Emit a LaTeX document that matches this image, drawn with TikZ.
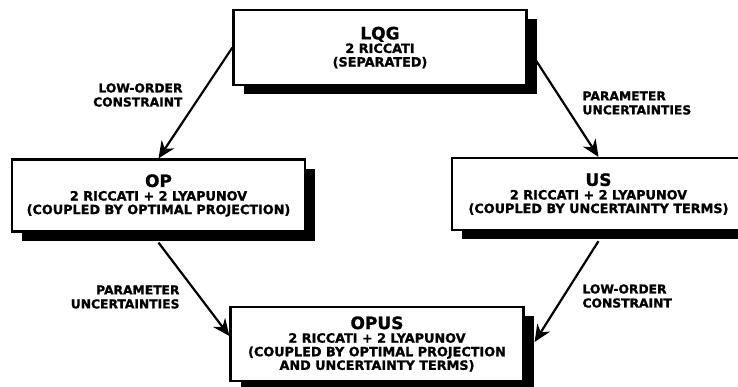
\documentclass[tikz,border=0pt]{standalone}
\usepackage{fontspec}
\newfontfamily\diagfont{DejaVu Sans}[BoldFeatures={FakeBold=1.2}]
\usetikzlibrary{arrows.meta, shadows}

\begin{document}
\begin{tikzpicture}[x=1pt, y=-1pt,
    every node/.style={font=\diagfont\bfseries\fontsize{12.8}{13.6}\selectfont},
    algbox/.style={draw, line width=2.2pt, fill=white, align=center,
                   minimum width=293pt, minimum height=72pt, inner sep=2pt,
                   drop shadow={shadow xshift=10pt, shadow yshift=-9pt, fill=black, opacity=1}},
    edgelbl/.style={font=\diagfont\bfseries\fontsize{12.3}{14}\selectfont},
    flow/.style={line width=2.2pt, -{Stealth[length=17pt, width=15pt]}}]
  \useasboundingbox (0,0) rectangle (738,386);

  % the four design problems
  \node[algbox, minimum height=75pt] (lqg) at (380,47.5)
       {{\fontsize{17}{18}\selectfont LQG}\\ 2 RICCATI\\ (SEPARATED)};
  \node[algbox] (op) at (158.5,195.5)
       {{\fontsize{17}{18}\selectfont OP}\\ 2 RICCATI + 2 LYAPUNOV\\ (COUPLED BY OPTIMAL PROJECTION)};
  \node[algbox] (us) at (598.5,194)
       {{\fontsize{17}{18}\selectfont US}\\ 2 RICCATI + 2 LYAPUNOV\\ (COUPLED BY UNCERTAINTY TERMS)};
  \node[algbox, minimum height=74pt] (opus) at (377,344)
       {{\fontsize{17}{18}\selectfont OPUS}\\ 2 RICCATI + 2 LYAPUNOV\\ (COUPLED BY OPTIMAL PROJECTION\\ AND UNCERTAINTY TERMS)};

  % extensions
  \draw[flow] (lqg.west) -- (op.north);
  \draw[flow] (lqg.east) -- (us.north);
  \draw[flow] ([yshift=-10pt]op.south) -- ([yshift=8pt]opus.west);
  \draw[flow] ([yshift=-10pt]us.south) -- ([xshift=10pt,yshift=2pt]opus.east);

  % what each arrow adds
  \node[edgelbl, anchor=east, align=right] (lo1) at (186,95) {LOW-ORDER\\CONSTRAINT};
  \node[edgelbl, anchor=west, align=left] (pu1) at (579,103) {PARAMETER\\UNCERTAINTIES};
  \node[edgelbl, anchor=east, align=right] (pu2) at (183,297) {PARAMETER\\UNCERTAINTIES};
  \node[edgelbl, anchor=west, align=left] (lo2) at (579,296) {LOW-ORDER\\CONSTRAINT};
\end{tikzpicture}
\end{document}
